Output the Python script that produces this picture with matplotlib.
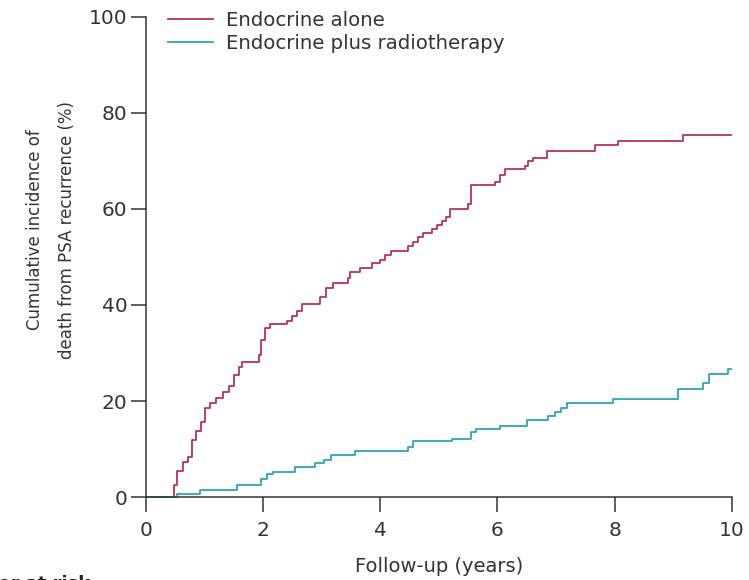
import matplotlib
matplotlib.use('Agg')
import matplotlib.pyplot as plt

# Datos (años, % acumulado)
t_endocrino = [0, 0.48, 0.53, 0.63, 0.72, 0.78, 0.85, 0.94, 1.01, 1.09, 1.19, 1.32, 1.42, 1.50,
               1.58, 1.63, 1.92, 1.97, 2.03, 2.12, 2.40, 2.49, 2.57, 2.66, 2.97, 3.07, 3.20, 3.45,
               3.49, 3.65, 3.85, 3.99, 4.08, 4.19, 4.48, 4.56, 4.65, 4.73, 4.88, 4.96, 5.05, 5.12,
               5.19, 5.50, 5.54, 5.96, 6.04, 6.13, 6.47, 6.52, 6.61, 6.84, 7.66, 8.06, 9.17, 9.98]
y_endocrino = [0, 2.5, 5.5, 7.4, 8.4, 11.9, 13.8, 15.7, 18.5, 19.6, 20.6, 21.9, 23.1, 25.4,
               27.0, 28.2, 29.6, 32.7, 35.1, 36.0, 36.7, 37.6, 38.8, 40.2, 41.7, 43.5, 44.5, 45.6,
               46.9, 47.8, 48.7, 49.4, 50.4, 51.3, 52.2, 53.2, 54.2, 54.9, 55.8, 56.7, 57.4, 58.3,
               60.0, 61.0, 65.0, 65.7, 67.1, 68.3, 69.0, 69.9, 70.6, 72.0, 73.3, 74.2, 75.3, 75.3]

t_radio = [0, 0.52, 0.92, 1.56, 1.97, 2.06, 2.17, 2.54, 2.88, 3.03, 3.15, 3.57, 4.48, 4.56,
           5.22, 5.55, 5.63, 6.05, 6.51, 6.87, 6.99, 7.08, 7.19, 7.97, 9.08, 9.51, 9.61, 9.94, 9.99]
y_radio = [0, 0.6, 1.5, 2.5, 3.7, 4.8, 5.3, 6.2, 7.1, 7.8, 8.75, 9.6, 10.5, 11.7,
           12.0, 13.6, 14.2, 14.9, 16.0, 16.9, 17.8, 18.6, 19.5, 20.4, 22.6, 23.7, 25.6, 26.6, 26.6]

etiquetas = ['Endocrine alone', 'Endocrine plus radiotherapy']
colores = ['#b5335a', '#2ea4b4']
x_ticks = [0, 2, 4, 6, 8, 10]
y_ticks = [0, 20, 40, 60, 80, 100]

plt.rcParams['font.family'] = ['DejaVu Sans']
gris = '#333333'

fig = plt.figure(figsize=(7.49, 5.80), dpi=100)
ax = fig.add_axes([0.195, 0.143, 0.782, 0.828])

ax.step(t_endocrino, y_endocrino, where='post', color=colores[0], lw=1.3,
        label=etiquetas[0], clip_on=False)
ax.step(t_radio, y_radio, where='post', color=colores[1], lw=1.3,
        label=etiquetas[1], clip_on=False)

ax.set_xlim(0, 10)
ax.set_ylim(0, 100)
ax.set_xticks(x_ticks)
ax.set_yticks(y_ticks)
for lado in ['top', 'right']:
    ax.spines[lado].set_visible(False)
for lado in ['left', 'bottom']:
    ax.spines[lado].set_color(gris)
    ax.spines[lado].set_linewidth(1.1)
ax.tick_params(direction='out', length=10.5, width=1.1, color=gris,
               labelcolor=gris, labelsize=14.5)
ax.tick_params(axis='x', pad=7)
ax.tick_params(axis='y', pad=3)

ax.set_xlabel('Follow-up (years)', fontsize=14, color=gris, labelpad=12)
ax.set_ylabel('Cumulative incidence of\ndeath from PSA recurrence (%)',
              fontsize=12, color=gris, linespacing=2.0)
ax.yaxis.set_label_coords(-0.119, 0.556)

ax.legend(loc='upper left', bbox_to_anchor=(0.0375, 1.012), frameon=False,
          borderpad=0, borderaxespad=0,
          handlelength=2.3, handletextpad=0.62, labelspacing=0.2,
          fontsize=14.2, labelcolor=gris)

fig.text(0.12, 1 - 575 / 580, 'Number at risk', ha='right', va='top',
         fontsize=13, fontweight='bold', color='#222222')

fig.savefig('out.png', dpi=100)
plt.close(fig)
